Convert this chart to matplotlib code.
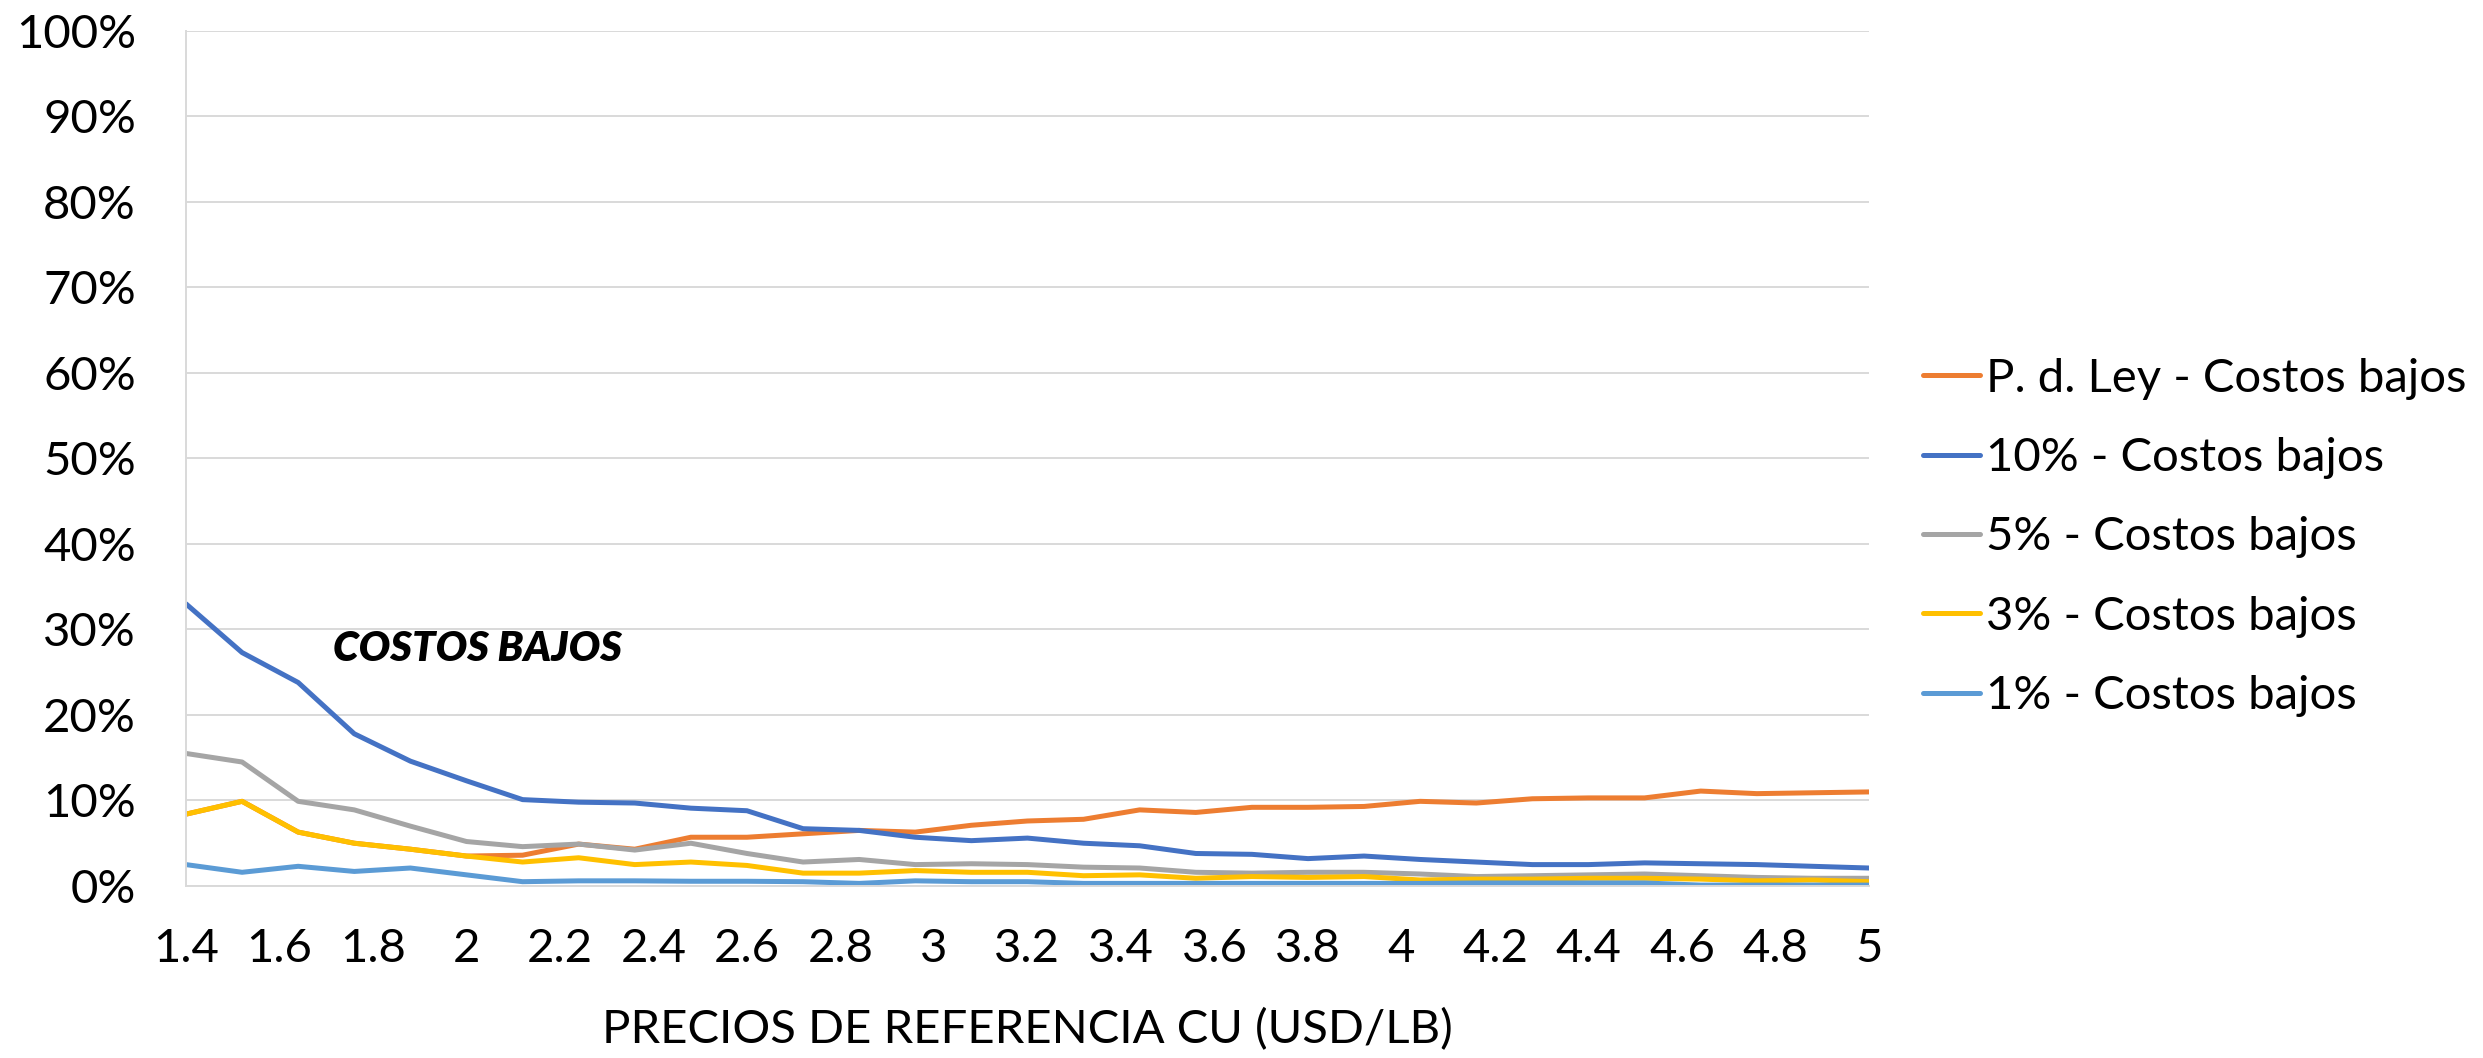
import numpy as np
import matplotlib
matplotlib.use("Agg")
import matplotlib.pyplot as plt
from matplotlib.ticker import FuncFormatter, MultipleLocator

plt.rcParams['font.family'] = ['Lato', 'DejaVu Sans']

# Reference copper price (USD/lb), 1.4 to 5.0 in 0.12 steps
precios = [1.40, 1.52, 1.64, 1.76, 1.88, 2.00, 2.12, 2.24, 2.36, 2.48, 2.60,
           2.72, 2.84, 2.96, 3.08, 3.20, 3.32, 3.44, 3.56, 3.68, 3.80,
           3.92, 4.04, 4.16, 4.28, 4.40, 4.52, 4.64, 4.76, 4.88, 5.00]

# Share (%) for each scenario, low-cost case
ley = [8.4, 9.9, 6.3, 5.0, 4.3, 3.5, 3.6, 4.9, 4.3, 5.7, 5.7,
       6.1, 6.5, 6.3, 7.1, 7.6, 7.8, 8.9, 8.6, 9.2, 9.2,
       9.3, 9.9, 9.7, 10.2, 10.3, 10.3, 11.1, 10.8, 10.9, 11.0]
r10 = [33.0, 27.3, 23.8, 17.8, 14.6, 12.3, 10.1, 9.8, 9.7, 9.1, 8.8,
       6.7, 6.5, 5.7, 5.3, 5.6, 5.0, 4.7, 3.8, 3.7, 3.2,
       3.5, 3.1, 2.8, 2.5, 2.5, 2.7, 2.6, 2.5, 2.3, 2.1]
r5 = [15.5, 14.5, 9.9, 8.9, 7.0, 5.2, 4.6, 4.9, 4.2, 5.0, 3.8,
      2.8, 3.1, 2.5, 2.6, 2.5, 2.2, 2.1, 1.6, 1.5, 1.6,
      1.6, 1.4, 1.1, 1.2, 1.3, 1.4, 1.2, 1.0, 0.9, 0.9]
r3 = [8.4, 9.9, 6.3, 5.0, 4.3, 3.5, 2.8, 3.3, 2.5, 2.8, 2.4,
      1.5, 1.5, 1.8, 1.6, 1.6, 1.2, 1.3, 0.9, 1.1, 1.0,
      1.1, 0.7, 0.8, 0.8, 0.9, 0.9, 0.8, 0.6, 0.7, 0.5]
r1 = [2.5, 1.6, 2.3, 1.7, 2.1, 1.3, 0.5, 0.6, 0.6, 0.55, 0.55,
      0.5, 0.3, 0.6, 0.5, 0.5, 0.3, 0.3, 0.3, 0.3, 0.3,
      0.3, 0.3, 0.35, 0.35, 0.35, 0.35, 0.1, 0.1, 0.1, 0.1]

series = [
    ("P. d. Ley - Costos bajos", ley, "#ED7D31"),
    ("10% - Costos bajos", r10, "#4472C4"),
    ("5% - Costos bajos", r5, "#A5A5A5"),
    ("3% - Costos bajos", r3, "#FFC000"),
    ("1% - Costos bajos", r1, "#5B9BD5"),
]

fig = plt.figure(figsize=(24.83, 10.58), dpi=100)
ax = fig.add_axes([0.0749, 0.1626, 0.6778, 0.8081])

for label, vals, color in series:
    ax.plot(precios, np.array(vals) / 100.0, color=color, lw=3.6,
            label=label, solid_joinstyle='round', solid_capstyle='round')

ax.set_xlim(1.4, 5.0)
ax.set_ylim(0, 1.0)
ax.xaxis.set_major_locator(MultipleLocator(0.2))
ax.yaxis.set_major_locator(MultipleLocator(0.1))
ax.xaxis.set_major_formatter(FuncFormatter(lambda v, p: f"{v:.1f}".rstrip('0').rstrip('.')))
ax.yaxis.set_major_formatter(FuncFormatter(lambda v, p: f"{v*100:.0f}%"))

grid_c = "#D9D9D9"
ax.grid(axis='y', color=grid_c, lw=1.4)
ax.set_axisbelow(True)
for side in ('top', 'right'):
    ax.spines[side].set_visible(False)
for side in ('left', 'bottom'):
    ax.spines[side].set_color(grid_c)
    ax.spines[side].set_linewidth(1.4)

ax.tick_params(axis='both', length=0, labelsize=34, colors='black')
ax.tick_params(axis='y', pad=36)
ax.tick_params(axis='x', pad=30)

ax.set_xlabel("PRECIOS DE REFERENCIA CU (USD/LB)", fontsize=34, labelpad=28)

ax.text(1.714, 0.277, "COSTOS BAJOS", fontsize=30, fontweight='heavy',
        fontstyle='italic', ha='left', va='center')

fig.legend(loc='center left', bbox_to_anchor=(0.767, 0.492), frameon=False,
           fontsize=34, handlelength=1.2, handletextpad=0.12,
           labelspacing=0.79, borderaxespad=0)

fig.savefig("out.png", dpi=100, facecolor='white')
